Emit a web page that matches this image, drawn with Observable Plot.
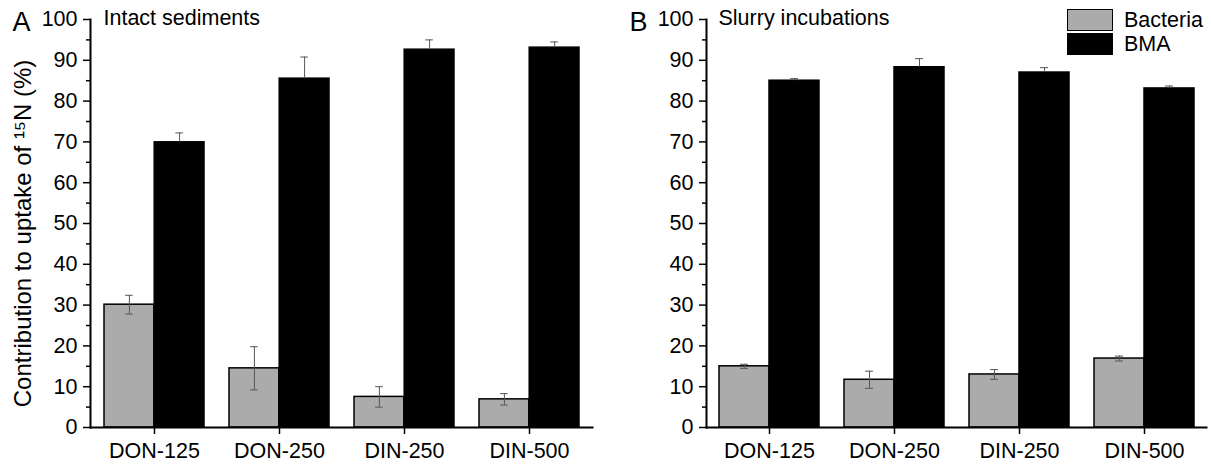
<!DOCTYPE html>
<html>
<head>
<meta charset="utf-8">
<script src="https://cdn.jsdelivr.net/npm/d3@7"></script>
<script src="https://cdn.jsdelivr.net/npm/@observablehq/plot@0.6"></script>
<style>
  html, body { margin: 0; padding: 0; background: #fff; }
  #wrap { position: relative; width: 1211px; height: 464px; display: flex; font-family: "Liberation Sans", Arial, sans-serif; }
  #legend { position: absolute; left: 1067px; top: 8px; font-size: 21.5px; color: #000; }
  .row { display: flex; align-items: center; height: 24px; }
  .sw { width: 46px; height: 22px; border: 1.5px solid #000; box-sizing: border-box; margin-right: 11px; }
</style>
</head>
<body>
<div id="wrap"></div>
<script>
const categories = ["DON-125", "DON-250", "DIN-250", "DIN-500"];
const seriesNames = ["Bacteria", "BMA"];

// Panel A: Intact sediments
const intactBacteria = [30.1, 14.5, 7.5, 6.9];
const intactBacteriaErr = [2.3, 5.3, 2.5, 1.4];
const intactBMA = [69.9, 85.5, 92.6, 93.1];
const intactBMAErr = [2.3, 5.3, 2.4, 1.4];

// Panel B: Slurry incubations
const slurryBacteria = [15.0, 11.7, 13.0, 16.9];
const slurryBacteriaErr = [0.5, 2.1, 1.2, 0.6];
const slurryBMA = [85.0, 88.3, 87.0, 83.1];
const slurryBMAErr = [0.5, 2.1, 1.2, 0.6];

const yTicks = [0, 10, 20, 30, 40, 50, 60, 70, 80, 90, 100];
const yMinorTicks = [5, 15, 25, 35, 45, 55, 65, 75, 85, 95];

const FONT = "Liberation Sans, Arial, sans-serif";

function panel({letter, letterX, title, titleDx, bact, bactErr, bma, bmaErr, width, marginLeft, marginRight, yLabel}) {
  const rows = categories.map((c, i) => ({
    category: c, bact: bact[i], bactErr: bactErr[i], bma: bma[i], bmaErr: bmaErr[i]
  }));
  const W = width - marginLeft - marginRight;
  const bw = W / 4 * 0.8;
  const half = bw / 2;
  const cap = 4;
  const errColor = "#555";
  const marks = [
    Plot.barY(rows, {x: "category", y: "bact", fill: "#ababab", stroke: "#000", strokeWidth: 1.5, insetRight: half}),
    Plot.barY(rows, {x: "category", y: "bma", fill: "#000", stroke: "#000", strokeWidth: 1.5, insetLeft: half}),
    Plot.ruleX(rows, {x: "category", y1: d => d.bact - d.bactErr, y2: d => d.bact + d.bactErr, dx: -half / 2, stroke: errColor, strokeWidth: 1}),
    Plot.tickY(rows, {x: "category", y: d => d.bact + d.bactErr, insetLeft: half / 2 - cap, insetRight: bw - half / 2 - cap, stroke: errColor, strokeWidth: 1}),
    Plot.tickY(rows, {x: "category", y: d => d.bact - d.bactErr, insetLeft: half / 2 - cap, insetRight: bw - half / 2 - cap, stroke: errColor, strokeWidth: 1}),
    Plot.ruleX(rows, {x: "category", y1: "bma", y2: d => d.bma + d.bmaErr, dx: half / 2, stroke: errColor, strokeWidth: 1}),
    Plot.tickY(rows, {x: "category", y: d => d.bma + d.bmaErr, insetLeft: half * 1.5 - cap, insetRight: half / 2 - cap, stroke: errColor, strokeWidth: 1}),
    Plot.axisY({ticks: yTicks, tickSize: 7, tickPadding: 6, strokeWidth: 1.5, fontSize: 21.5, label: null}),
    Plot.axisY({ticks: yMinorTicks, tickSize: 4, strokeWidth: 1.5, tickFormat: () => "", label: null}),
    Plot.axisX({tickSize: 7, tickPadding: 8, strokeWidth: 1.5, fontSize: 21.5, label: null}),
    Plot.frame({anchor: "left", strokeWidth: 2}),
    Plot.frame({anchor: "bottom", strokeWidth: 2}),
    Plot.text([letter], {frameAnchor: "top-left", text: d => d, dx: letterX - marginLeft, dy: 3, textAnchor: "start", lineAnchor: "middle", fontSize: 27}),
    Plot.text([title], {frameAnchor: "top-left", text: d => d, dx: titleDx, dy: -1, textAnchor: "start", lineAnchor: "middle", fontSize: 21.5})
  ];
  if (yLabel) {
    marks.push(Plot.text([yLabel], {frameAnchor: "left", text: d => d, dx: 23 - marginLeft, dy: 10, rotate: -90, textAnchor: "middle", lineAnchor: "middle", fontSize: 24}));
  }
  return Plot.plot({
    width, height: 464,
    marginTop: 19, marginBottom: 37, marginLeft, marginRight,
    style: {fontFamily: FONT, color: "#000", background: "#fff", overflow: "visible"},
    x: {domain: categories, paddingInner: 0.2, paddingOuter: 0.1, label: null},
    y: {domain: [0, 100], label: null},
    marks
  });
}

const wrap = document.getElementById("wrap");
wrap.appendChild(panel({
  letter: "A", letterX: 12, title: "Intact sediments", titleDx: 13,
  bact: intactBacteria, bactErr: intactBacteriaErr, bma: intactBMA, bmaErr: intactBMAErr,
  width: 605, marginLeft: 90, marginRight: 13,
  yLabel: "Contribution to uptake of \u00B9\u2075N (%)"
}));
wrap.appendChild(panel({
  letter: "B", letterX: 24, title: "Slurry incubations", titleDx: 12,
  bact: slurryBacteria, bactErr: slurryBacteriaErr, bma: slurryBMA, bmaErr: slurryBMAErr,
  width: 606, marginLeft: 101, marginRight: 5,
  yLabel: null
}));

const legend = document.createElement("div");
legend.id = "legend";
const fills = ["#ababab", "#000"];
seriesNames.forEach((name, i) => {
  const row = document.createElement("div");
  row.className = "row";
  const sw = document.createElement("div");
  sw.className = "sw";
  sw.style.background = fills[i];
  const label = document.createElement("span");
  label.textContent = name;
  row.appendChild(sw);
  row.appendChild(label);
  legend.appendChild(row);
});
wrap.appendChild(legend);
</script>
</body>
</html>
